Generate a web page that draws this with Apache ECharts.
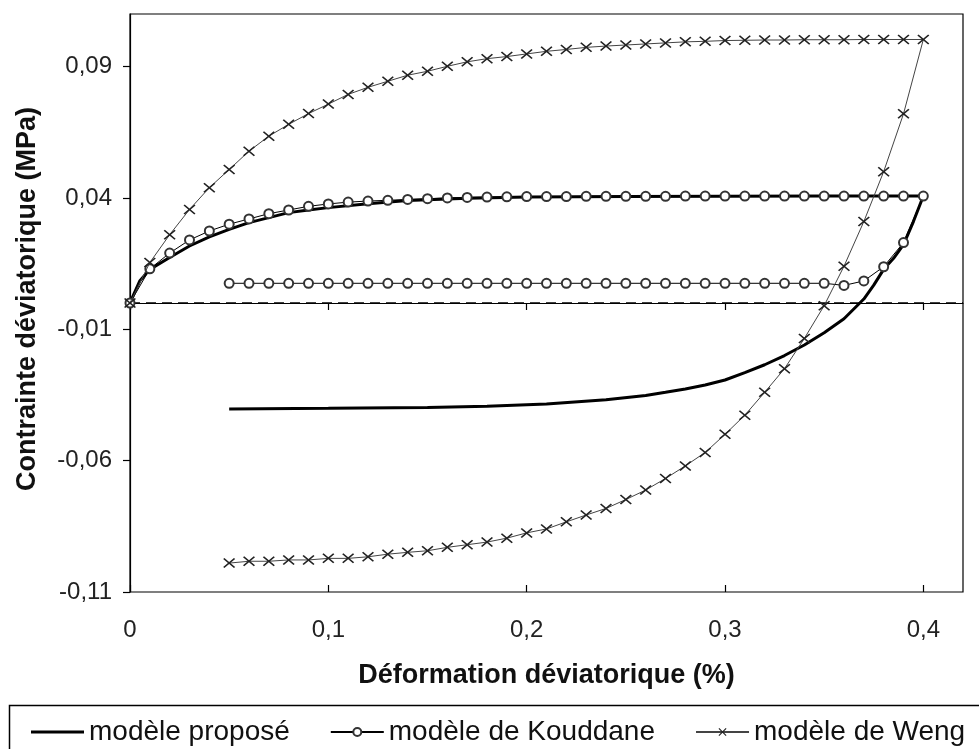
<!DOCTYPE html>
<html>
<head>
<meta charset="utf-8">
<script src="https://cdn.jsdelivr.net/npm/echarts@6/dist/echarts.min.js"></script>
<style>html,body{margin:0;padding:0;background:#fff}#c{width:979px;height:749px}</style>
</head>
<body>
<div id="c"></div>
<script>
// ---- data ----
var yTicks = [-0.11, -0.06, -0.01, 0.04, 0.09];
var xTicks = [0, 0.1, 0.2, 0.3, 0.4];

var proposeX = [0, 0.002, 0.005, 0.01, 0.02, 0.03, 0.04, 0.05, 0.06, 0.07, 0.08, 0.09, 0.10, 0.12, 0.14, 0.17, 0.20, 0.25, 0.30, 0.35, 0.40,
  0.395, 0.39, 0.385, 0.38, 0.375, 0.37, 0.36, 0.35, 0.34, 0.33, 0.32, 0.31, 0.30, 0.29, 0.28, 0.27, 0.26, 0.24, 0.21, 0.18, 0.15, 0.10, 0.05];
var proposeY = [0, 0.0035, 0.0085, 0.0128, 0.0173, 0.0217, 0.0252, 0.028, 0.0306, 0.0325, 0.0344, 0.0354, 0.0363, 0.0378, 0.039, 0.0399, 0.0403, 0.0405, 0.0406, 0.0407, 0.0407,
  0.031, 0.0222, 0.017, 0.0128, 0.0068, 0.0015, -0.006, -0.0113, -0.016, -0.020, -0.0235, -0.0265, -0.0293, -0.0312, -0.0327, -0.034, -0.0352, -0.0368, -0.0384, -0.0393, -0.0398, -0.0401, -0.0403];

var kouddaneX = [0, 0.01, 0.02, 0.03, 0.04, 0.05, 0.06, 0.07, 0.08, 0.09, 0.10, 0.11, 0.12, 0.13, 0.14, 0.15, 0.16, 0.17, 0.18, 0.19, 0.20,
  0.21, 0.22, 0.23, 0.24, 0.25, 0.26, 0.27, 0.28, 0.29, 0.30, 0.31, 0.32, 0.33, 0.34, 0.35, 0.36, 0.37, 0.38, 0.39, 0.40,
  0.39, 0.38, 0.37, 0.36, 0.35, 0.34, 0.33, 0.32, 0.31, 0.30, 0.29, 0.28, 0.27, 0.26, 0.25, 0.24, 0.23, 0.22, 0.21, 0.20,
  0.19, 0.18, 0.17, 0.16, 0.15, 0.14, 0.13, 0.12, 0.11, 0.10, 0.09, 0.08, 0.07, 0.06, 0.05];
var kouddaneY = [0, 0.013, 0.019, 0.024, 0.0274, 0.030, 0.032, 0.034, 0.0354, 0.0368, 0.0377, 0.0384, 0.0388, 0.0391, 0.0394, 0.0397, 0.04, 0.0402, 0.0403, 0.0404, 0.0405,
  0.0405, 0.0405, 0.0406, 0.0406, 0.0406, 0.0406, 0.0406, 0.0407, 0.0407, 0.0407, 0.0407, 0.0407, 0.0407, 0.0407, 0.0407, 0.0407, 0.0407, 0.0407, 0.0407, 0.0407,
  0.023, 0.0138, 0.0084, 0.0067, 0.0075, 0.0075, 0.0075, 0.0075, 0.0075, 0.0075, 0.0075, 0.0075, 0.0075, 0.0075, 0.0075, 0.0075, 0.0075, 0.0075, 0.0075, 0.0075,
  0.0075, 0.0075, 0.0075, 0.0075, 0.0075, 0.0075, 0.0075, 0.0075, 0.0075, 0.0075, 0.0075, 0.0075, 0.0075, 0.0075, 0.0075];

var wengX = [0, 0.01, 0.02, 0.03, 0.04, 0.05, 0.06, 0.07, 0.08, 0.09, 0.10, 0.11, 0.12, 0.13, 0.14, 0.15, 0.16, 0.17, 0.18, 0.19, 0.20,
  0.21, 0.22, 0.23, 0.24, 0.25, 0.26, 0.27, 0.28, 0.29, 0.30, 0.31, 0.32, 0.33, 0.34, 0.35, 0.36, 0.37, 0.38, 0.39, 0.40,
  0.39, 0.38, 0.37, 0.36, 0.35, 0.34, 0.33, 0.32, 0.31, 0.30, 0.29, 0.28, 0.27, 0.26, 0.25, 0.24, 0.23, 0.22, 0.21, 0.20,
  0.19, 0.18, 0.17, 0.16, 0.15, 0.14, 0.13, 0.12, 0.11, 0.10, 0.09, 0.08, 0.07, 0.06, 0.05];
var wengY = [0, 0.0154, 0.026, 0.0356, 0.0439, 0.0508, 0.0578, 0.0635, 0.068, 0.0721, 0.0757, 0.0794, 0.0821, 0.0844, 0.0867, 0.0882, 0.0901, 0.0918, 0.093, 0.0938, 0.0948,
  0.0958, 0.0965, 0.0973, 0.0978, 0.0982, 0.0986, 0.099, 0.0994, 0.0996, 0.0999, 0.1, 0.1001, 0.1001, 0.1002, 0.1002, 0.1002, 0.1003, 0.1003, 0.1003, 0.1003,
  0.072, 0.050, 0.031, 0.014, -0.001, -0.0135, -0.025, -0.034, -0.0427, -0.050, -0.0569, -0.062, -0.0668, -0.0712, -0.0748, -0.0782, -0.0807, -0.0833, -0.086, -0.0875,
  -0.0895, -0.091, -0.092, -0.093, -0.0943, -0.0949, -0.0956, -0.0966, -0.0972, -0.0972, -0.0978, -0.0978, -0.0983, -0.0983, -0.099];

// reference (zero) line
var zeroX = [0, 0.42];
var zeroY = [0, 0];

var names = ['modèle proposé', 'modèle de Kouddane', 'modèle de Weng'];

function zip(xs, ys) { return xs.map(function (x, i) { return [x, ys[i]]; }); }
function fmt(v) { return String(v).replace('.', ','); }

var FONT = '"Liberation Sans", Arial, sans-serif';
var crossPath = 'path://M0,1 L1,0 L5,4 L9,0 L10,1 L6,5 L10,9 L9,10 L5,6 L1,10 L0,9 L4,5 Z';
var barIcon = 'path://M0,0 M53,10 M0,3.5 L53,3.5 L53,6.5 L0,6.5 Z';

var chart = echarts.init(document.getElementById('c'), null, { renderer: 'canvas' });
chart.setOption({
  animation: false,
  backgroundColor: '#fff',
  textStyle: { fontFamily: FONT },
  grid: { left: 130, right: 16, top: 14, bottom: 157, show: true, borderColor: '#000', borderWidth: 1.2, backgroundColor: 'transparent' },
  xAxis: [{
    type: 'value', min: 0, max: 0.42, position: 'bottom',
    axisLine: { lineStyle: { color: '#000', width: 1.2 } },
    axisTick: { show: true, inside: false, length: 7, customValues: xTicks, lineStyle: { color: '#000', width: 1.2 } },
    axisLabel: { customValues: xTicks, formatter: fmt, fontSize: 24, color: '#222', margin: 26, fontFamily: FONT },
    splitLine: { show: false },
    name: 'Déformation déviatorique (%)', nameLocation: 'middle', nameGap: 70,
    nameTextStyle: { fontSize: 27, fontWeight: 'bold', color: '#111', fontFamily: FONT }
  }, {
    type: 'value', min: 0, max: 0.42, position: 'bottom',
    axisLine: { show: false },
    axisTick: { show: true, inside: true, length: 7, customValues: xTicks, lineStyle: { color: '#000', width: 1.2 } },
    axisLabel: { show: false },
    splitLine: { show: false }
  }],
  yAxis: {
    type: 'value', min: -0.11, max: 0.11,
    axisLine: { show: true, lineStyle: { color: '#000', width: 1.2 } },
    axisTick: { show: true, inside: false, length: 7, customValues: yTicks, lineStyle: { color: '#000', width: 1.2 } },
    axisLabel: { customValues: yTicks, formatter: fmt, fontSize: 24, color: '#222', margin: 18, fontFamily: FONT },
    splitLine: { show: false },
    name: 'Contrainte déviatorique (MPa)', nameLocation: 'middle', nameGap: 89,
    nameTextStyle: { fontSize: 27, fontWeight: 'bold', color: '#111', fontFamily: FONT, padding: [0, 0, 0, 8] }
  },
  legend: {
    left: 26, top: 713, itemWidth: 53, itemHeight: 10, itemGap: 40,
    textStyle: { fontSize: 28, color: '#111', fontFamily: FONT },
    data: [
      { name: names[0], icon: barIcon, itemStyle: { color: '#000', borderWidth: 0 } },
      { name: names[1] },
      { name: names[2] }
    ]
  },
  graphic: [{
    type: 'rect', left: 7, top: 703, shape: { width: 990, height: 60 },
    style: { fill: 'none', stroke: '#000', lineWidth: 1.5 }, silent: true
  }],
  series: [{
    name: 'zero', type: 'line', data: zip(zeroX, zeroY), symbol: 'none', silent: true,
    lineStyle: { color: '#000', width: 1.5, type: [10, 6], dashOffset: 0 }, z: 1
  }, {
    name: names[0], type: 'line', data: zip(proposeX, proposeY), showSymbol: false, symbol: 'none',
    lineStyle: { color: '#000', width: 3 }, itemStyle: { color: '#000' }, z: 3
  }, {
    name: names[1], type: 'line', data: zip(kouddaneX, kouddaneY), symbol: 'emptyCircle', symbolSize: 9,
    lineStyle: { color: '#000', width: 1 }, itemStyle: { color: '#333', borderWidth: 1.2 }, z: 4
  }, {
    name: names[2], type: 'line', data: zip(wengX, wengY), symbol: crossPath, symbolSize: [12, 10],
    lineStyle: { color: '#444', width: 1 }, itemStyle: { color: '#222' }, z: 5
  }]
});
</script>
</body>
</html>
